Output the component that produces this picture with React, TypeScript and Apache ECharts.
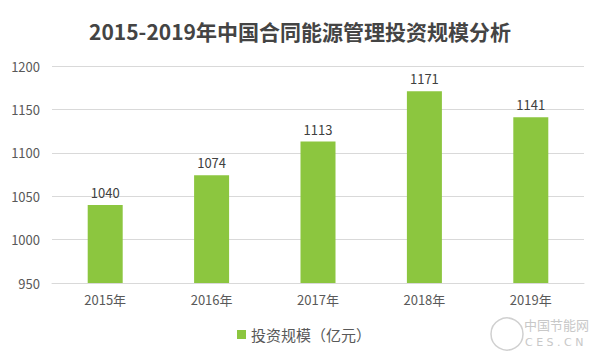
import React, { useEffect, useRef } from "react";
import * as echarts from "echarts";

const categories = ["2015年", "2016年", "2017年", "2018年", "2019年"];
const values = [1040, 1074, 1113, 1171, 1141];
const seriesName = "投资规模（亿元）";
const titleText = "2015-2019年中国合同能源管理投资规模分析";

export default function App() {
  const ref = useRef<HTMLDivElement>(null);
  useEffect(() => {
    if (!ref.current) return;
    const chart = echarts.init(ref.current, undefined, { renderer: "svg" });
    const font = "'Noto Sans CJK SC', 'Noto Sans', sans-serif";
    chart.setOption({
      animation: false,
      backgroundColor: "#ffffff",
      title: {
        text: titleText,
        left: "center",
        top: 15,
        textStyle: { fontSize: 21, fontWeight: "bold", color: "#444444", fontFamily: font },
      },
      grid: { left: 52, right: 16, top: 66, bottom: 77, containLabel: false },
      legend: {
        bottom: 13,
        left: 232,
        itemWidth: 9,
        itemHeight: 9,
        icon: "rect",
        itemGap: 4,
        textStyle: { fontSize: 15, color: "#595959", fontFamily: font },
        data: [seriesName],
      },
      xAxis: {
        type: "category",
        data: categories,
        axisLine: { lineStyle: { color: "#d9d9d9" } },
        axisTick: { show: false },
        axisLabel: { fontSize: 13, color: "#595959", margin: 10, fontFamily: font },
      },
      yAxis: {
        type: "value",
        min: 950,
        max: 1200,
        interval: 50,
        axisLine: { show: false },
        axisTick: { show: false },
        axisLabel: {
          fontSize: 13,
          color: "#595959",
          margin: 12,
          fontFamily: font,
          formatter: (v: number) => String(v),
        },
        splitLine: { lineStyle: { color: "#d9d9d9" } },
      },
      series: [
        {
          name: seriesName,
          type: "bar",
          data: values,
          barWidth: 35,
          itemStyle: { color: "#8cc63f" },
          label: {
            show: true,
            position: "top",
            distance: 6,
            fontSize: 13,
            color: "#404040",
            fontFamily: font,
          },
        },
      ],
      graphic: [
        {
          type: "circle",
          shape: { cx: 507, cy: 334, r: 16 },
          style: { fill: "none", stroke: "#d0d0d0", lineWidth: 1.5 },
        },
        {
          type: "text",
          x: 524,
          y: 318,
          style: { text: "中国节能网", fontSize: 13, fill: "#c8c8c8", fontFamily: font },
        },
        {
          type: "text",
          x: 525,
          y: 337,
          style: { text: "C E S . C N", fontSize: 11, fill: "#c8c8c8", fontFamily: "DejaVu Sans" },
        },
      ],
    });
    return () => chart.dispose();
  }, []);
  return <div ref={ref} style={{ width: 600, height: 360, position: "absolute", left: 0, top: 0 }} />;
}
